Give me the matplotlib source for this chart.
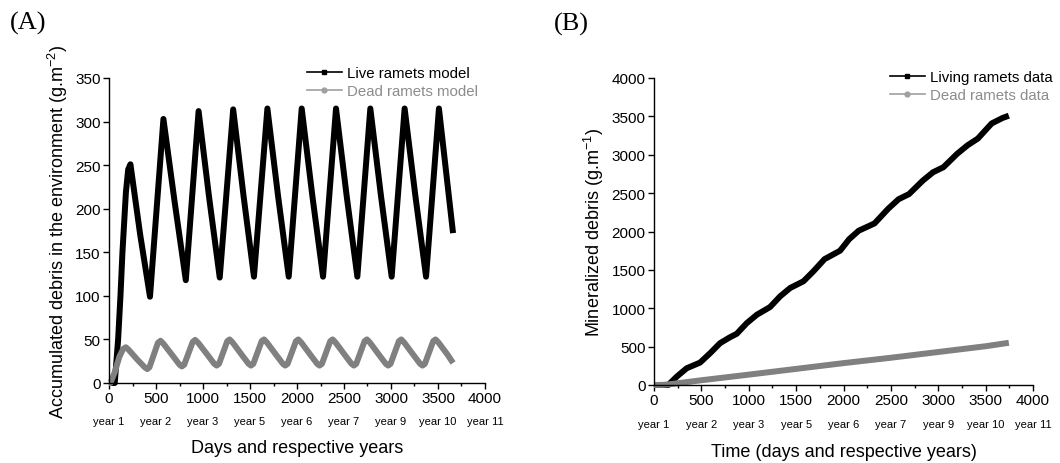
import matplotlib
matplotlib.use("Agg")
import matplotlib.pyplot as plt
from matplotlib.lines import Line2D
from matplotlib.ticker import MultipleLocator
import matplotlib.transforms as mtransforms

plt.rcParams["font.family"] = ["Liberation Sans", "DejaVu Sans"]
plt.rcParams["mathtext.default"] = "regular"

# (A) accumulated debris, model output
live_days = [0, 61, 97, 122, 143, 180, 204, 228, 332, 436, 579, 698, 817, 953, 1065, 1178,
             1321, 1431, 1542, 1685, 1798, 1912, 2050, 2163, 2277, 2415, 2528, 2642,
             2780, 2893, 3007, 3145, 3259, 3373, 3510, 3660]
live_vals = [0, 0, 50, 100, 150, 219, 245, 251, 170, 99, 303, 208, 118, 312, 213, 121,
             314, 215, 122, 315, 215, 122, 315, 215, 122, 315, 215, 122,
             315, 215, 122, 315, 215, 122, 315, 172]

dead_days = [0, 15, 60, 110, 150, 179, 210, 300, 380, 407,
             430, 520, 548, 580, 680, 750, 775,
             800, 890, 916, 950, 1050, 1120, 1145,
             1170, 1258, 1283, 1315, 1415, 1485, 1510,
             1535, 1624, 1649, 1680, 1780, 1850, 1875,
             1900, 1989, 2014, 2045, 2145, 2215, 2240,
             2265, 2354, 2379, 2410, 2510, 2580, 2605,
             2630, 2719, 2744, 2775, 2875, 2945, 2970,
             2995, 3084, 3109, 3140, 3240, 3310, 3335,
             3360, 3449, 3474, 3505, 3605, 3660]
dead_vals = [0, 0, 12, 30, 39, 41, 38, 27, 18, 16,
             18, 46, 48.5, 45, 31, 21, 19,
             21, 47, 49.5, 46, 32, 22, 20,
             22, 48, 50, 46.5, 32, 22, 20,
             22, 48, 50, 46.5, 32, 22, 20,
             22, 48, 50, 46.5, 32, 22, 20,
             22, 48, 50, 46.5, 32, 22, 20,
             22, 48, 50, 46.5, 32, 22, 20,
             22, 48, 50, 46.5, 32, 22, 20,
             22, 48, 50, 46.5, 32, 23]

# (B) mineralized debris, data
living_days = [0, 150, 240, 345, 486, 592, 697, 803, 873, 979, 1085, 1225, 1331, 1437,
               1577, 1683, 1800, 1964, 2060, 2160, 2327, 2473, 2582, 2691, 2836, 2945,
               3055, 3200, 3309, 3418, 3564, 3680, 3745]
living_vals = [0, 0, 109, 218, 292, 414, 545, 623, 667, 806, 915, 1016, 1155, 1264,
               1351, 1482, 1640, 1750, 1900, 2010, 2105, 2298, 2421, 2487, 2662, 2772,
               2838, 3013, 3123, 3211, 3408, 3480, 3509]
deadB_days = [0, 100, 200, 500, 1000, 1500, 2000, 2500, 3000, 3500, 3745]
deadB_vals = [0, 2, 15, 62, 135, 210, 285, 355, 430, 505, 550]

tick_days = [0, 500, 1000, 1500, 2000, 2500, 3000, 3500, 4000]
year_labels = ["year 1", "year 2", "year 3", "year 5", "year 6",
               "year 7", "year 9", "year 10", "year 11"]

BLACK = "black"
GREY = "#808080"
LW = 4.3

fig = plt.figure(figsize=(10.6, 4.64), dpi=100)
H = 464.0
W = 1060.0


def style_axes(ax, ymax, ystep, yrow):
    for s in ["top", "right"]:
        ax.spines[s].set_visible(False)
    for s in ["left", "bottom"]:
        ax.spines[s].set_linewidth(1.0)
    ax.set_xlim(0, 4000)
    ax.set_ylim(0, ymax)
    ax.xaxis.set_major_locator(MultipleLocator(500))
    ax.xaxis.set_minor_locator(MultipleLocator(250))
    ax.yaxis.set_major_locator(MultipleLocator(ystep))
    ax.tick_params(which="major", length=4, width=1.0, labelsize=11, pad=2)
    ax.tick_params(which="minor", length=2.5, width=1.0)
    trans = mtransforms.blended_transform_factory(ax.transData, fig.transFigure)
    for d, lab in zip(tick_days, year_labels):
        ax.text(d, yrow, lab, transform=trans, ha="center", va="center",
                fontsize=8, clip_on=False)


def draw(ax, x, y, color):
    ax.plot(x, y, color=color, lw=LW, solid_joinstyle="round",
            solid_capstyle="butt", clip_on=False)


# panel A
axA = fig.add_axes([109 / W, 1 - 384 / H, (485 - 109) / W, (384 - 79) / H])
draw(axA, live_days, live_vals, BLACK)
draw(axA, dead_days, dead_vals, GREY)
style_axes(axA, 350, 50, 1 - 422 / H)
axA.set_xlabel("Days and respective years", fontsize=13, labelpad=24)
axA.set_ylabel("Accumulated debris in the environment (g.m$^{-2}$)", fontsize=13,
               labelpad=4)

# panel B
axB = fig.add_axes([654 / W, 1 - 386 / H, (1033 - 654) / W, (386 - 79) / H])
draw(axB, living_days, living_vals, BLACK)
draw(axB, deadB_days, deadB_vals, GREY)
style_axes(axB, 4000, 500, 1 - 425 / H)
axB.set_xlabel("Time (days and respective years)", fontsize=13, labelpad=26)
axB.set_ylabel("Mineralized debris (g.m$^{-1}$)", fontsize=13, labelpad=4)


def add_legend(ax, labels, x, ytop):
    handles = [Line2D([], [], color=BLACK, lw=1.2, marker="s", markersize=3.5),
               Line2D([], [], color="#a0a0a0", lw=1.2, marker="o", markersize=3.5)]
    leg = ax.legend(handles, labels, loc="upper left",
                    bbox_to_anchor=(x / W, 1 - ytop / H),
                    bbox_transform=fig.transFigure, frameon=False, fontsize=10.8,
                    borderpad=0, borderaxespad=0, handlelength=2.3,
                    handletextpad=0.35, labelspacing=0.3)
    leg.get_texts()[1].set_color("#8c8c8c")


add_legend(axA, ["Live ramets model", "Dead ramets model"], 307, 67)
add_legend(axB, ["Living ramets data", "Dead ramets data"], 890, 71)

fig.text(10 / W, 1 - 23 / H, "(A)", fontsize=19, family="Liberation Serif",
         ha="left", va="center")
fig.text(554 / W, 1 - 24 / H, "(B)", fontsize=19, family="Liberation Serif",
         ha="left", va="center")

fig.savefig("out.png", dpi=100)
